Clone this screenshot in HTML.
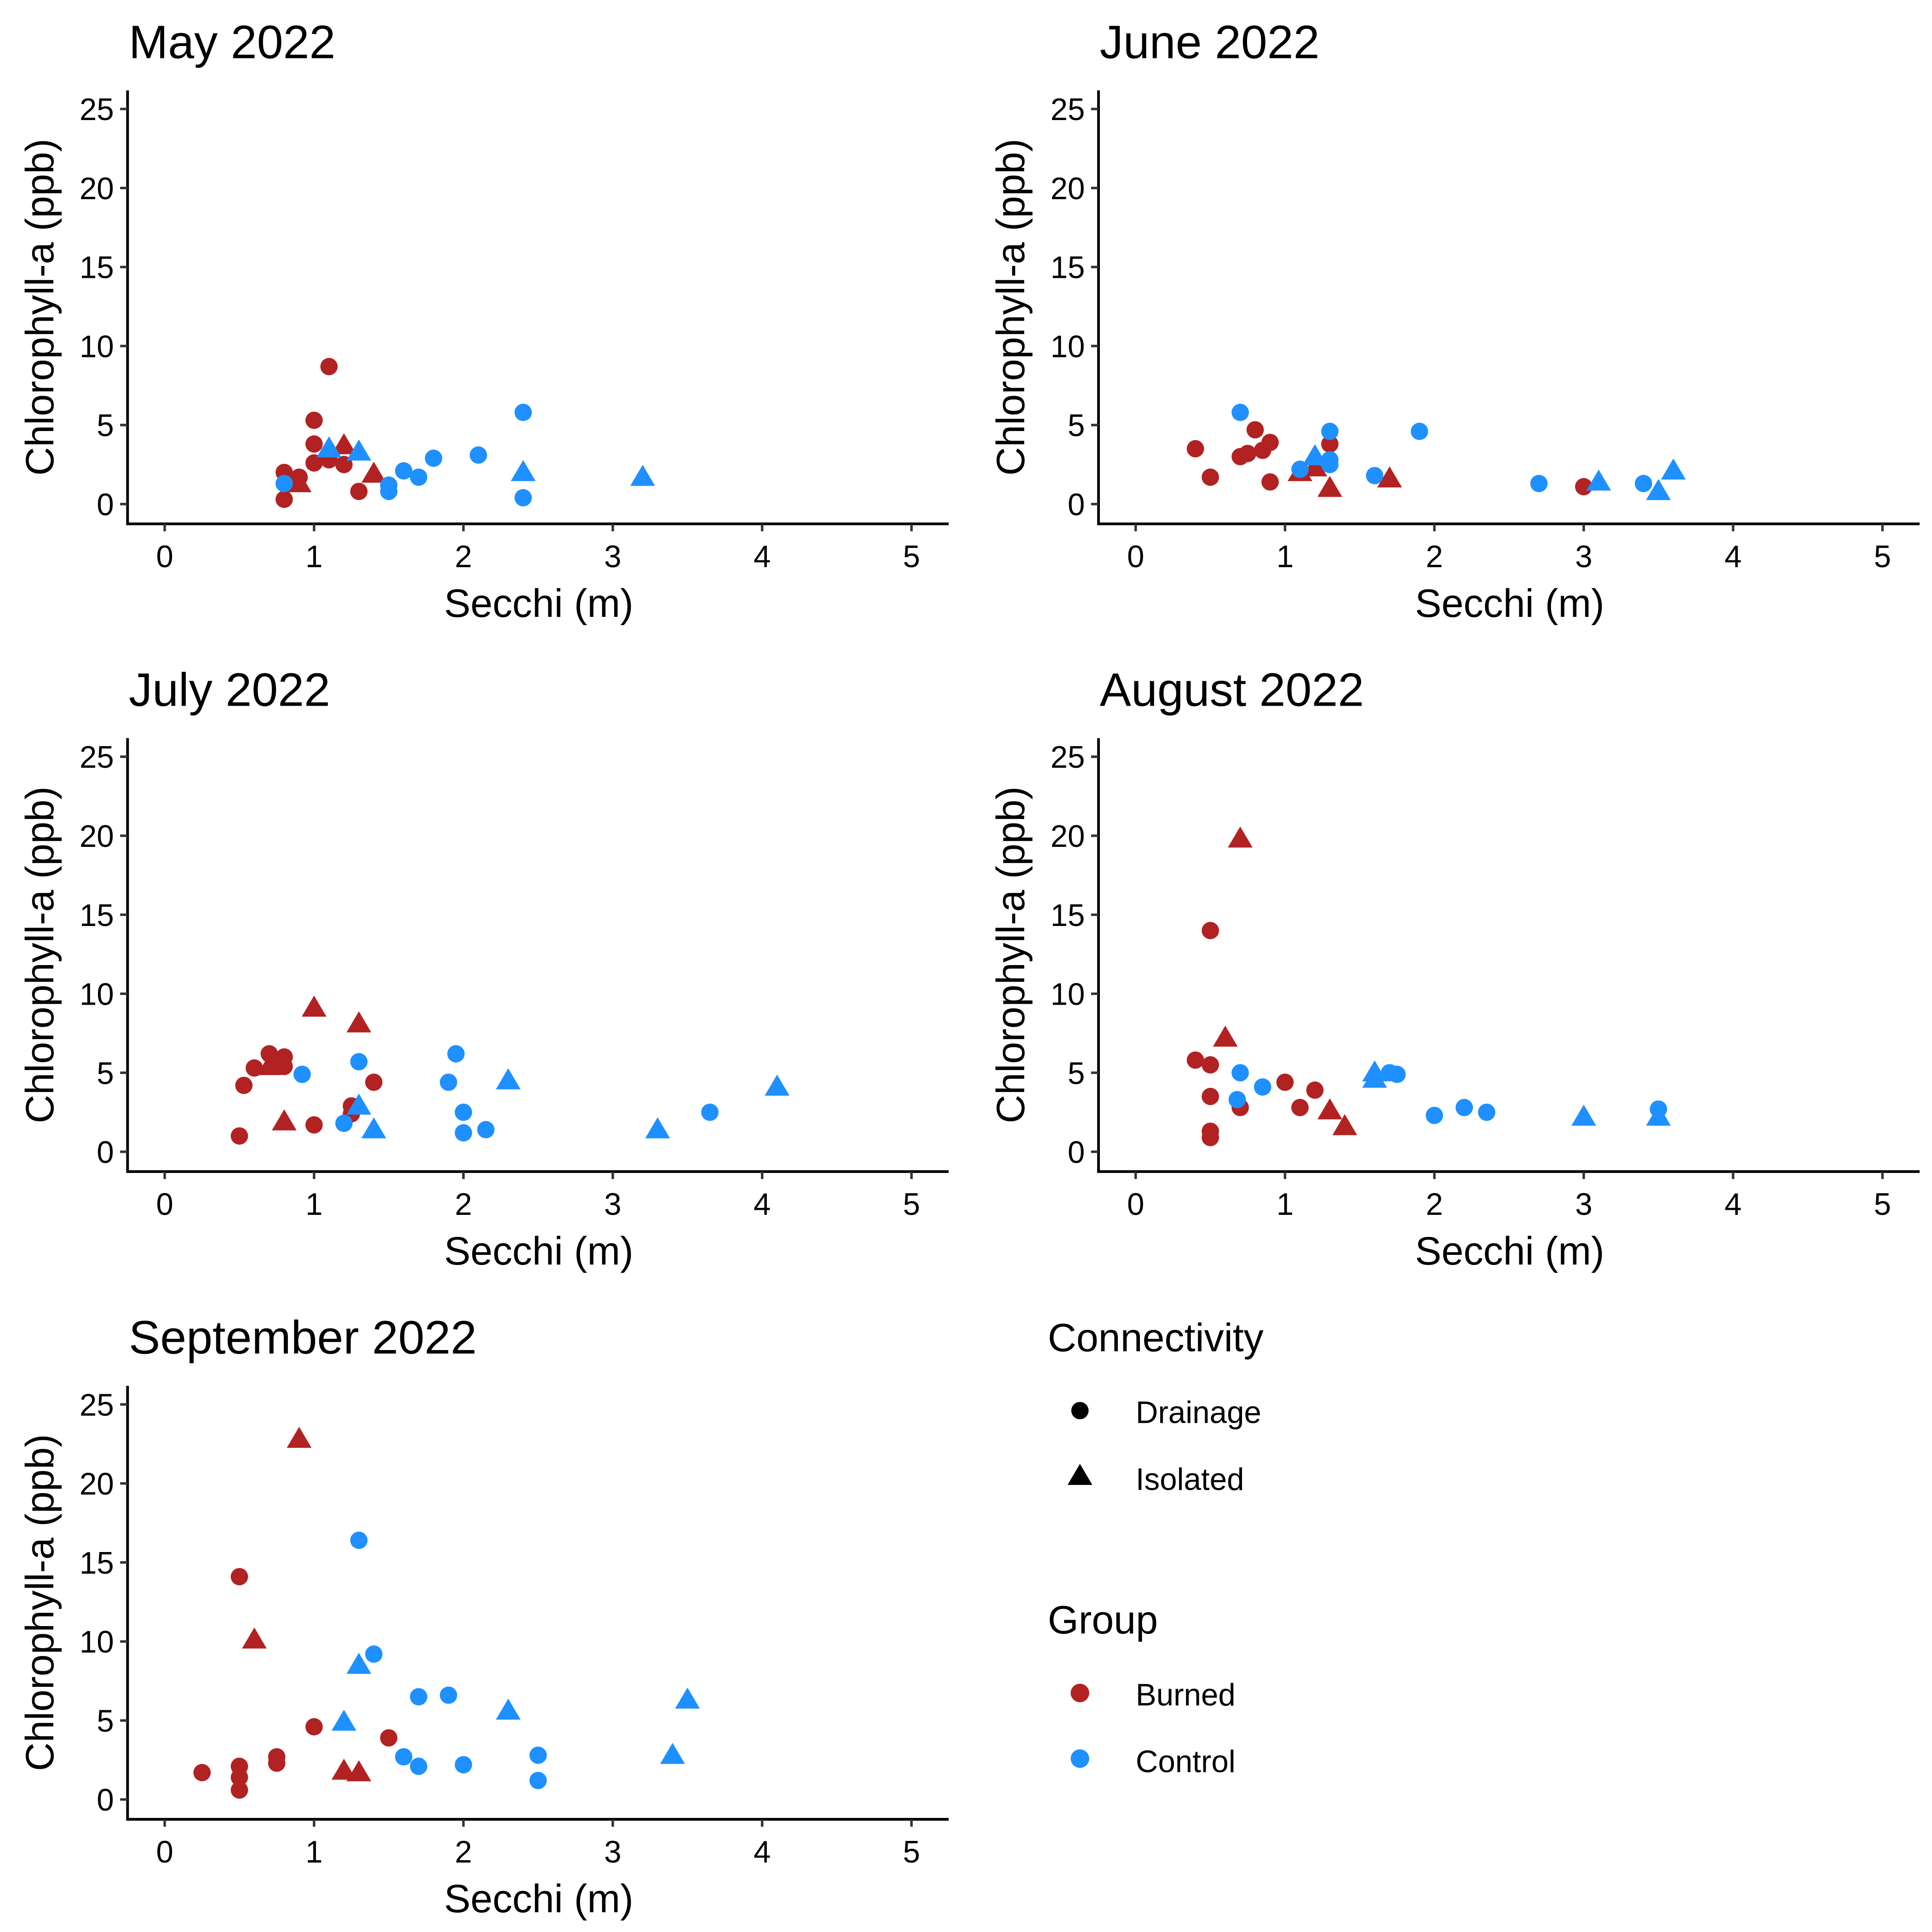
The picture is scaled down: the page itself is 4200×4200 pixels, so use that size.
<!DOCTYPE html>
<html><head><meta charset="utf-8"><style>
html,body{margin:0;padding:0;background:#fff}
svg{display:block}
text{font-family:"Liberation Sans",Arial,sans-serif;fill:#000}
</style></head><body>
<svg id="chart" width="4200" height="4200" viewBox="0 0 1560 1560" xmlns="http://www.w3.org/2000/svg">
<g id="legend">
<text x="846" y="1091" font-size="32">Connectivity</text>
<circle cx="872" cy="1139" r="7" fill="#000"/>
<text x="917" y="1149" font-size="25">Drainage</text>
<polygon points="872,1182 882,1199 862,1199" fill="#000"/>
<text x="917" y="1203" font-size="25">Isolated</text>
<text x="846" y="1319" font-size="32">Group</text>
<circle cx="872" cy="1367" r="7.5" fill="#B22222"/>
<text x="917" y="1377" font-size="25">Burned</text>
<circle cx="872" cy="1420" r="7.5" fill="#1E90FF"/>
<text x="917" y="1431" font-size="25">Control</text>
</g>
</svg>
<script>
const panelTitles = ["May 2022","June 2022","July 2022","August 2022","September 2022"];
const xTicks = [0,1,2,3,4,5];
const yTicks = [0,5,10,15,20,25];
const mayBurnedDrainage = [[0.8,2.0],[0.8,0.3],[0.9,1.7],[1.0,5.3],[1.0,3.8],[1.0,2.6],[1.1,8.7],[1.1,2.8],[1.2,2.5],[1.3,0.8]];
const mayBurnedIsolated = [[0.9,1.3],[1.2,3.7],[1.4,1.9]];
const mayControlDrainage = [[0.8,1.3],[1.5,1.2],[1.5,0.8],[1.6,2.1],[1.7,1.7],[1.8,2.9],[2.1,3.1],[2.4,5.8],[2.4,0.4]];
const mayControlIsolated = [[1.1,3.5],[1.3,3.3],[2.4,2.0],[3.2,1.7]];
const junBurnedDrainage = [[0.4,3.5],[0.5,1.7],[0.7,3.0],[0.75,3.2],[0.8,4.7],[0.85,3.4],[0.9,3.9],[0.9,1.4],[1.3,3.8],[3.0,1.1]];
const junBurnedIsolated = [[1.1,2.0],[1.2,2.3],[1.3,1.0],[1.7,1.6]];
const junControlDrainage = [[0.7,5.8],[1.1,2.2],[1.3,4.6],[1.3,2.8],[1.3,2.5],[1.6,1.8],[1.9,4.6],[2.7,1.3],[3.4,1.3]];
const junControlIsolated = [[1.2,3.0],[3.1,1.4],[3.5,0.8],[3.6,2.1]];
const julBurnedDrainage = [[0.5,1.0],[0.53,4.2],[0.6,5.3],[0.7,6.2],[0.75,5.4],[0.8,6.0],[0.8,5.4],[1.0,1.7],[1.25,2.9],[1.25,2.4],[1.4,4.4]];
const julBurnedIsolated = [[0.7,5.4],[0.8,1.9],[1.0,9.1],[1.3,8.1]];
const julControlDrainage = [[0.92,4.9],[1.2,1.8],[1.3,5.7],[1.9,4.4],[1.95,6.2],[2.0,2.5],[2.0,1.2],[2.15,1.4],[3.65,2.5]];
const julControlIsolated = [[1.3,2.9],[1.4,1.4],[2.3,4.5],[3.3,1.4],[4.1,4.1]];
const augBurnedDrainage = [[0.4,5.8],[0.5,14.0],[0.5,5.5],[0.5,3.5],[0.5,1.3],[0.5,0.9],[0.7,2.8],[1.0,4.4],[1.1,2.8],[1.2,3.9]];
const augBurnedIsolated = [[0.6,7.2],[0.7,19.8],[1.3,2.6],[1.4,1.6]];
const augControlDrainage = [[0.7,5.0],[0.68,3.3],[0.85,4.1],[1.7,5.0],[1.75,4.9],[2.0,2.3],[2.2,2.8],[2.35,2.5],[3.5,2.7]];
const augControlIsolated = [[1.6,5.0],[1.6,4.6],[3.0,2.2],[3.5,2.2]];
const sepBurnedDrainage = [[0.25,1.7],[0.5,14.1],[0.5,2.1],[0.5,1.4],[0.5,0.6],[0.75,2.7],[0.75,2.3],[1.0,4.6],[1.5,3.9]];
const sepBurnedIsolated = [[0.6,10.1],[0.9,22.8],[1.2,1.8],[1.3,1.7]];
const sepControlDrainage = [[1.3,16.4],[1.4,9.2],[1.6,2.7],[1.7,6.5],[1.7,2.1],[1.9,6.6],[2.0,2.2],[2.5,2.8],[2.5,1.2]];
const sepControlIsolated = [[1.2,4.9],[1.3,8.5],[2.3,5.6],[3.4,2.8],[3.5,6.3]];

const panels = [
 [mayBurnedDrainage,mayBurnedIsolated,mayControlDrainage,mayControlIsolated],
 [junBurnedDrainage,junBurnedIsolated,junControlDrainage,junControlIsolated],
 [julBurnedDrainage,julBurnedIsolated,julControlDrainage,julControlIsolated],
 [augBurnedDrainage,augBurnedIsolated,augControlDrainage,augControlIsolated],
 [sepBurnedDrainage,sepBurnedIsolated,sepControlDrainage,sepControlIsolated]
];
const RED="#B22222", BLUE="#1E90FF";
const svg=document.getElementById('chart');
const NS="http://www.w3.org/2000/svg";
function mk(tag,attrs,parent){const e=document.createElementNS(NS,tag);for(const k in attrs)e.setAttribute(k,attrs[k]);parent.appendChild(e);return e;}
panels.forEach((series,i)=>{
  const dx=(i%2)*784, dy=Math.floor(i/2)*523;
  const xs=v=>133+dx+v*120.6;
  const ys=v=>407+dy-v*12.76;
  const g=mk('g',{},svg);
  
  
  const t=mk('text',{x:104+dx,y:47+dy,'font-size':38},g);t.textContent=panelTitles[i];
  
  
  const ya=mk('line',{x1:103+dx,y1:73+dy,x2:103+dx,y2:424+dy,stroke:'#000','stroke-width':2.2},g);
  
  
  const xa=mk('line',{x1:102+dx,y1:423+dy,x2:766+dx,y2:423+dy,stroke:'#000','stroke-width':2.2},g);
  
  
  xTicks.forEach(v=>{
    const tk=mk('line',{x1:xs(v),y1:423+dy,x2:xs(v),y2:429+dy,stroke:'#333','stroke-width':2},g);
    
    
    const l=mk('text',{x:xs(v),y:458+dy,'font-size':25,'text-anchor':'middle',fill:'#111'},g);l.textContent=v;
    
    
  });
  yTicks.forEach(v=>{
    const tk=mk('line',{x1:97+dx,y1:ys(v),x2:103+dx,y2:ys(v),stroke:'#333','stroke-width':2},g);
    
    
    const l=mk('text',{x:92+dx,y:ys(v)+9,'font-size':25,'text-anchor':'end',fill:'#111'},g);l.textContent=v;
    
    
  });
  const xt=mk('text',{x:435+dx,y:498+dy,'font-size':32,'text-anchor':'middle'},g);xt.textContent='Secchi (m)';
  
  
  const yt=mk('text',{x:0,y:0,'font-size':32,'text-anchor':'middle',transform:`translate(${43+dx},${248+dy}) rotate(-90)`},g);yt.textContent='Chlorophyll-a (ppb)';
  
  
  series.forEach((pts,s)=>{
    const col=s<2?RED:BLUE, tri=(s%2)==1;
    pts.forEach(p=>{
      const cx=xs(p[0]), cy=ys(p[1]);
      let m;
      if(tri) m=mk('polygon',{points:`${cx},${cy-10} ${cx+10},${cy+7} ${cx-10},${cy+7}`,fill:col},g);
      else m=mk('circle',{cx:cx,cy:cy,r:7,fill:col},g);
      
      
    });
  });
});
</script>
</body></html>
